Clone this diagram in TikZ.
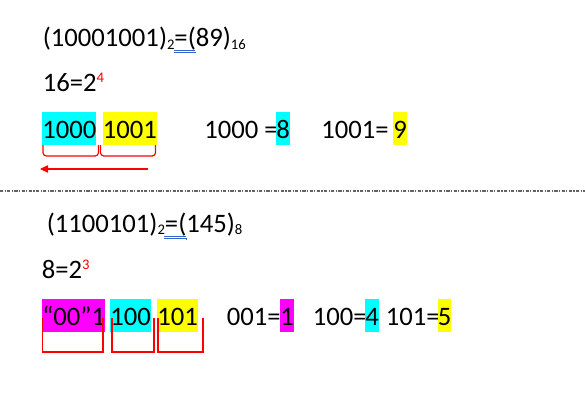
\documentclass[tikz,border=0pt]{standalone}
\usepackage{fontspec}
\setmainfont{Carlito}
\usetikzlibrary{arrows.meta}
\definecolor{ulblue}{RGB}{51,102,204}
\definecolor{hlcyan}{RGB}{0,255,255}
\definecolor{hlyellow}{RGB}{255,255,0}
\definecolor{hlmagenta}{RGB}{255,0,255}
\definecolor{divgray}{RGB}{100,100,100}
\newcommand\mysub[1]{\raisebox{-2.2pt}{\fontsize{11}{13}\selectfont #1}}
\newcommand\mysup[1]{\raisebox{6.4pt}{\fontsize{11}{13}\selectfont\color{red}#1}}
\begin{document}
\begin{tikzpicture}[x=0.75pt,y=-0.75pt,
  txt/.style={anchor=base west,inner sep=0pt,font=\fontsize{20}{24}\selectfont},
  hl/.style={txt,fill=#1,text height=19.2pt,text depth=5.4pt},
  brk/.style={draw=red,line width=0.9pt},
  dbl/.style={draw=ulblue,line width=0.6pt},
  divline/.style={draw=divgray,line width=0.8pt,dash pattern=on 2.4pt off 1.1pt on 0.8pt off 1.1pt}]
\useasboundingbox (0,0) rectangle (585,410);

% ---------- upper part ----------
\node[txt] (l1) at (42.5,46.5) {(10001001)\mysub{2}=(89)\mysub{16}};
\draw[dbl] (174,50) -- (195,50);
\draw[dbl] (174,52) -- (195,52) -- (195,53.5);

\node[txt] (l2) at (42.5,91.5) {16=2\mysup{4}};

\node[hl=hlcyan] (a1) at (42,138) {1000};
\node[hl=hlyellow] (a2) at (102.5,138) {1001};
\node[txt] (a3) at (204,138) {1000 =};
\node[hl=hlcyan] (a4) at (276,138) {8};
\node[txt] (a5) at (321,138) {1001=};
\node[hl=hlyellow] (a6) at (393,138) {9};

\draw[brk,rounded corners=2.5pt] (43,145) -- (43,156) -- (98.5,156) -- (98.5,145);
\draw[brk,rounded corners=2.5pt] (100.5,145) -- (100.5,156) -- (155.5,156) -- (155.5,145);

\coordinate (arS) at (148,169);
\coordinate (arE) at (40,169);
\draw[red,line width=0.9pt,-{Triangle[length=6pt,width=5.5pt]}] (arS) -- (arE);

% ---------- divider ----------
\coordinate (dvL) at (0,191);
\coordinate (dvR) at (585,191);
\draw[divline] (dvL) -- (dvR);

% ---------- lower part ----------
\node[txt] (l4) at (46.5,232) {(1100101)\mysub{2}=(145)\mysub{8}};
\draw[dbl] (164,236) -- (186,236);
\draw[dbl] (164,238) -- (186,238) -- (186,239.5);

\node[txt] (l5) at (41.5,278) {8=2\mysup{3}};

\node[hl=hlmagenta] (b1) at (42,325) {“00”1};
\node[hl=hlcyan] (b2) at (110,325) {100};
\node[hl=hlyellow] (b3) at (157,325) {101};

\node[txt] (b4) at (226.5,325) {001=};
\node[hl=hlmagenta] (b5) at (280,325) {1};
\node[txt] (b6) at (312.5,325) {100=};
\node[hl=hlcyan] (b7) at (365,325) {4};
\node[txt] (b8) at (385.5,325) {101=};
\node[hl=hlyellow] (b9) at (437.5,325) {5};

\draw[brk] (42.5,318) -- (42.5,352) -- (103,352) -- (103,318);
\draw[brk] (112,318) -- (112,352) -- (154,352) -- (154,318);
\draw[brk] (158,318) -- (158,352) -- (203,352) -- (203,318);
\end{tikzpicture}
\end{document}
